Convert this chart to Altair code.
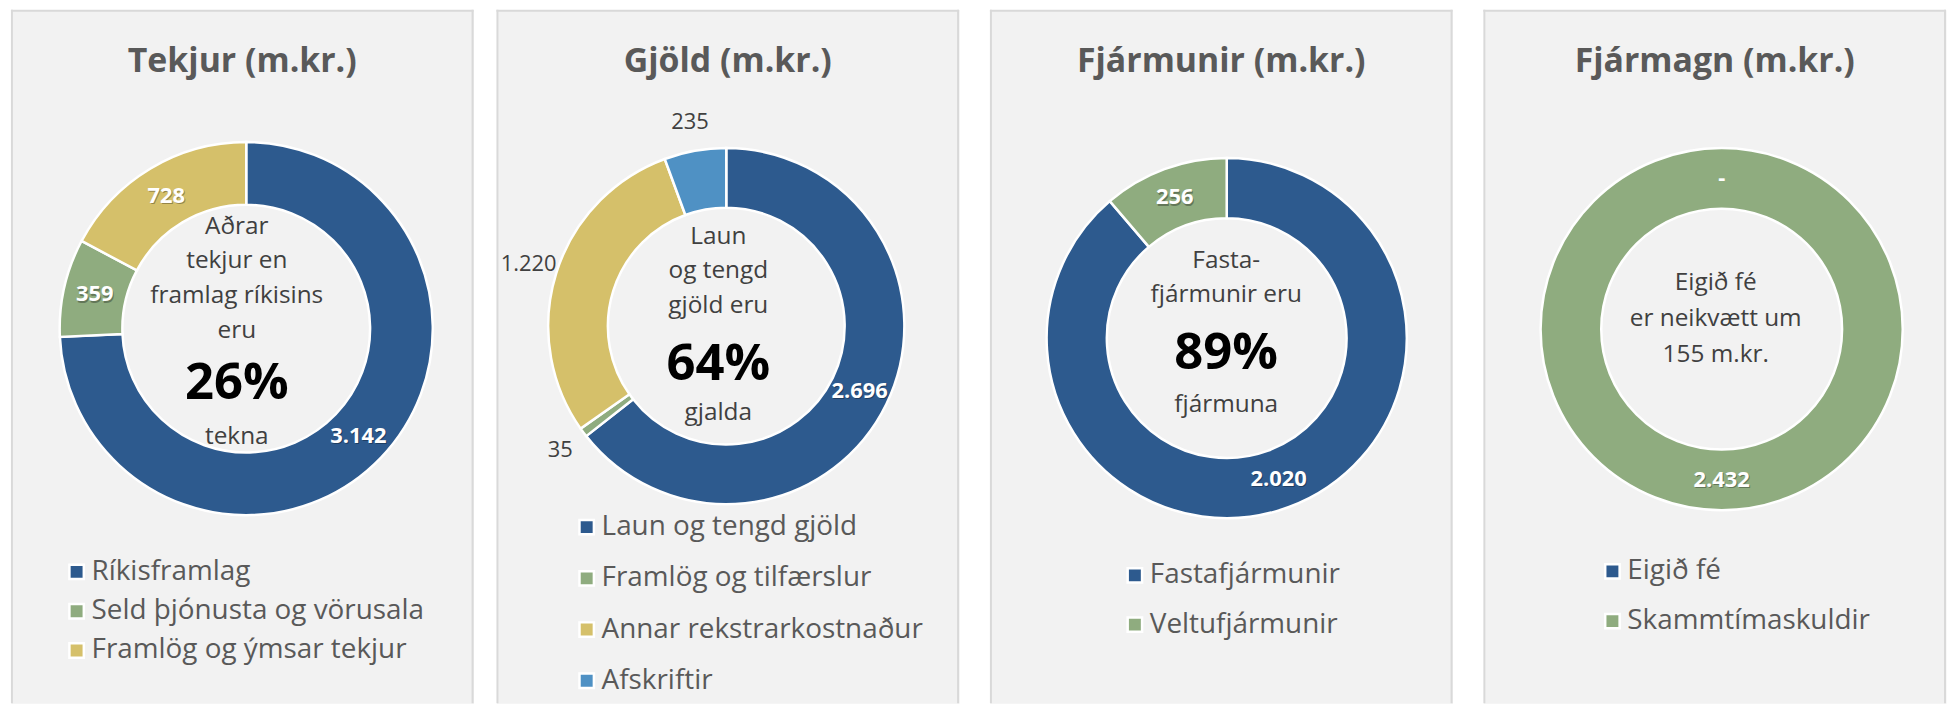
import altair as alt
import pandas as pd

# ---------------- data ----------------
TEKJUR_TITLE = "Tekjur (m.kr.)"
TEKJUR_CATS = ["Ríkisframlag", "Seld þjónusta og vörusala", "Framlög og ýmsar tekjur"]
TEKJUR_VALS = [3142, 359, 728]

GJOLD_TITLE = "Gjöld (m.kr.)"
GJOLD_CATS = ["Laun og tengd gjöld", "Framlög og tilfærslur", "Annar rekstrarkostnaður", "Afskriftir"]
GJOLD_VALS = [2696, 35, 1220, 235]

FJARMUNIR_TITLE = "Fjármunir (m.kr.)"
FJARMUNIR_CATS = ["Fastafjármunir", "Veltufjármunir"]
FJARMUNIR_VALS = [2020, 256]

FJARMAGN_TITLE = "Fjármagn (m.kr.)"
FJARMAGN_CATS = ["Eigið fé", "Skammtímaskuldir"]
FJARMAGN_VALS = [0, 2432]

# centre texts
TEKJUR_TOP = ["Aðrar", "tekjur en", "framlag ríkisins", "eru"]
TEKJUR_BOTTOM = "tekna"
GJOLD_TOP = ["Laun", "og tengd", "gjöld eru"]
GJOLD_BOTTOM = "gjalda"
FJARMUNIR_TOP = ["Fasta-", "fjármunir eru"]
FJARMUNIR_BOTTOM = "fjármuna"
FJARMAGN_TOP = ["Eigið fé", "er neikvætt um", "155 m.kr."]

# ---------------- styles ----------------
FONT = "Open Sans"
BG = "#f2f2f2"
BORDER = "#d9d9d9"
BLUE = "#2d5a8e"
GREEN = "#8fac7f"
YELLOW = "#d5c06a"
LIGHTBLUE = "#4f91c4"

TEKJUR_COLORS = [BLUE, GREEN, YELLOW]
GJOLD_COLORS = [BLUE, GREEN, YELLOW, LIGHTBLUE]
FJARMUNIR_COLORS = [BLUE, GREEN]
FJARMAGN_COLORS = [BLUE, GREEN]

# which labels sit outside the ring
TEKJUR_OUT = [False, False, False]
GJOLD_OUT = [False, True, True, True]
FJARMUNIR_OUT = [False, False]
FJARMAGN_OUT = [False, False]

PANEL_W = 465
PANEL_H = 697
BIG_SIZE = 51

LAYOUT = {
    "tekjur": dict(cx=236.5, cy=320.5, R=187.5, r=124.5, tx=227, top_y=225, lh=35,
                   big_y=391, bottom_y=436, lx=66, ly0=565, ly1=644),
    "gjold": dict(cx=231, cy=318, R=179, r=119, tx=223, top_y=235, lh=35,
                  big_y=372, bottom_y=412, lx=90.7, ly0=520, ly1=674.5),
    "fjarmunir": dict(cx=238, cy=330, R=181, r=120.5, tx=237.5, top_y=260, lh=34,
                      big_y=361, bottom_y=404, lx=145.7, ly0=568.5, ly1=618),
    "fjarmagn": dict(cx=239.5, cy=321, R=182, r=121, tx=233.5, top_y=282, lh=36,
                     big_y=None, bottom_y=None, lx=129.7, ly0=564.5, ly1=614.5),
}


def fmt(v):
    return "-" if v == 0 else f"{v:,}".replace(",", ".")


def pct(part, total):
    return f"{round(100 * part / total)}%"


def panel(title, cats, vals, colors, outside, top_lines, big, bottom, lay):
    n = len(cats)
    W, H = PANEL_W, PANEL_H
    lab_in = [("" if o else fmt(v)) for v, o in zip(vals, outside)]
    df = pd.DataFrame({
        "cat": cats,
        "val": vals,
        "idx": list(range(n)),
        "lab_in": lab_in,
        "lab_shadow": [("" if t == "-" else t) for t in lab_in],
        "lab_out": [(fmt(v) if o else "") for v, o in zip(vals, outside)],
    })
    base = alt.Chart(df)
    dummy = alt.Chart(pd.DataFrame({"d": [0]}))

    color = alt.Color("cat:N", scale=alt.Scale(domain=cats, range=colors), legend=None)
    theta = alt.Theta("val:Q", stack=True)
    order = alt.Order("idx:Q", sort="ascending")
    cx, cy = alt.value(lay["cx"]), alt.value(lay["cy"])

    layers = []
    border = dummy.mark_rule(color=BORDER, strokeWidth=2)
    layers.append(border.encode(x=alt.value(1), y=alt.value(0), y2=alt.value(H)))
    layers.append(border.encode(x=alt.value(W - 1), y=alt.value(0), y2=alt.value(H)))
    layers.append(border.encode(x=alt.value(0), x2=alt.value(W), y=alt.value(1)))

    layers.append(base.mark_arc(outerRadius=lay["R"], innerRadius=lay["r"],
                                stroke="white", strokeWidth=2.5).encode(
        theta=theta, color=color, order=order, x=cx, y=cy))

    rmid = (lay["R"] + lay["r"]) / 2
    layers.append(base.mark_text(radius=rmid, font=FONT, fontSize=22, fontWeight="bold",
                                 color="#000000", opacity=0.3, dx=1, dy=1.5).encode(
        theta=theta, detail="cat:N", order=order, text="lab_shadow:N", x=cx, y=cy))
    layers.append(base.mark_text(radius=rmid, font=FONT, fontSize=22, fontWeight="bold",
                                 color="white").encode(
        theta=theta, detail="cat:N", order=order, text="lab_in:N", x=cx, y=cy))
    layers.append(base.mark_text(radius=lay["R"] + 29, font=FONT, fontSize=22,
                                 color="#404040").encode(
        theta=theta, detail="cat:N", order=order, text="lab_out:N", x=cx, y=cy))

    # title
    layers.append(dummy.mark_text(font=FONT, fontSize=34, fontWeight="bold", color="#595959",
                                  align="center", baseline="alphabetic").encode(
        x=alt.value(W / 2), y=alt.value(63), text=alt.value(title)))

    # centre text
    layers.append(dummy.mark_text(font=FONT, fontSize=24.5, color="#404040", align="center",
                                  baseline="alphabetic", lineHeight=lay["lh"]).encode(
        x=alt.value(lay["tx"]), y=alt.value(lay["top_y"]), text=alt.value(top_lines)))
    if big:
        layers.append(dummy.mark_text(font=FONT, fontSize=BIG_SIZE, fontWeight="bold",
                                      color="#000000", align="center",
                                      baseline="alphabetic").encode(
            x=alt.value(lay["tx"]), y=alt.value(lay["big_y"]), text=alt.value(big)))
    if bottom:
        layers.append(dummy.mark_text(font=FONT, fontSize=24.5, color="#404040", align="center",
                                      baseline="alphabetic").encode(
            x=alt.value(lay["tx"]), y=alt.value(lay["bottom_y"]), text=alt.value(bottom)))

    # legend
    ys = alt.Y("cat:N", scale=alt.Scale(type="point", domain=cats,
                                        range=[lay["ly0"], lay["ly1"]], padding=0), axis=None)
    layers.append(base.mark_square(size=210, opacity=1, filled=True, stroke="white",
                                   strokeWidth=2.5).encode(
        x=alt.value(lay["lx"]), y=ys, color=color))
    layers.append(base.mark_text(font=FONT, fontSize=28, color="#595959", align="left",
                                 baseline="middle").encode(
        x=alt.value(lay["lx"] + 15), y=ys, text="cat:N"))

    return alt.layer(*layers).properties(width=W, height=H)


p1 = panel(TEKJUR_TITLE, TEKJUR_CATS, TEKJUR_VALS, TEKJUR_COLORS, TEKJUR_OUT,
           TEKJUR_TOP, pct(sum(TEKJUR_VALS[1:]), sum(TEKJUR_VALS)), TEKJUR_BOTTOM, LAYOUT["tekjur"])
p2 = panel(GJOLD_TITLE, GJOLD_CATS, GJOLD_VALS, GJOLD_COLORS, GJOLD_OUT,
           GJOLD_TOP, pct(GJOLD_VALS[0], sum(GJOLD_VALS)), GJOLD_BOTTOM, LAYOUT["gjold"])
p3 = panel(FJARMUNIR_TITLE, FJARMUNIR_CATS, FJARMUNIR_VALS, FJARMUNIR_COLORS, FJARMUNIR_OUT,
           FJARMUNIR_TOP, pct(FJARMUNIR_VALS[0], sum(FJARMUNIR_VALS)), FJARMUNIR_BOTTOM,
           LAYOUT["fjarmunir"])
p4 = panel(FJARMAGN_TITLE, FJARMAGN_CATS, FJARMAGN_VALS, FJARMAGN_COLORS, FJARMAGN_OUT,
           FJARMAGN_TOP, None, None, LAYOUT["fjarmagn"])

inner = alt.hconcat(p2, p3, p4, spacing=27).resolve_scale(
    color="independent", theta="independent", y="independent")
chart = alt.hconcat(p1, inner, spacing=19).resolve_scale(
    color="independent", theta="independent", y="independent"
).properties(
    padding={"left": 9, "top": 6, "right": 0, "bottom": 0},
    background="white",
).configure_view(fill=BG, stroke="transparent")

chart.save("out.html", embed_options={"renderer": "svg", "actions": False})
